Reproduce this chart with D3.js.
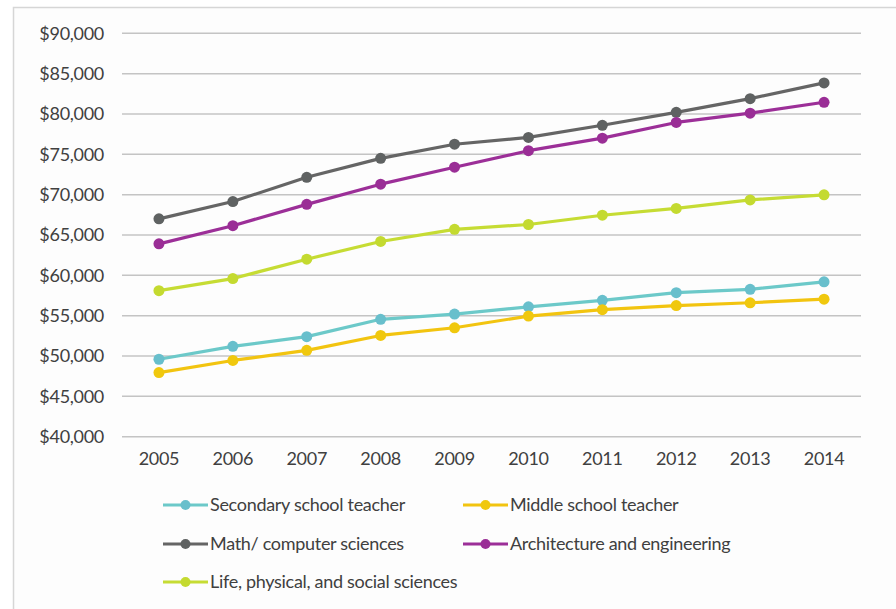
<!DOCTYPE html>
<html>
<head>
<meta charset="utf-8">
<script src="https://cdn.jsdelivr.net/npm/d3@7/dist/d3.min.js"></script>
<style>
  html, body { margin: 0; padding: 0; background: #ffffff; }
  svg { display: block; font-family: Lato, "Open Sans", sans-serif; }
</style>
</head>
<body>
<svg id="chart" width="896" height="609"></svg>
<script>
// Median salary by occupation, 2005–2014
const years = ["2005", "2006", "2007", "2008", "2009", "2010", "2011", "2012", "2013", "2014"];

const secondaryTeacher = [49600, 51200, 52400, 54550, 55200, 56100, 56900, 57850, 58270, 59200];
const middleTeacher    = [47950, 49450, 50700, 52550, 53500, 54950, 55750, 56250, 56600, 57050];
const mathComputer     = [67000, 69150, 72150, 74500, 76250, 77100, 78600, 80200, 81900, 83850];
const archEngineering  = [63900, 66150, 68800, 71300, 73400, 75450, 77000, 78950, 80100, 81450];
const lifeSciences     = [58100, 59600, 62000, 64200, 65700, 66300, 67450, 68300, 69350, 69980];

const yTicks = [40000, 45000, 50000, 55000, 60000, 65000, 70000, 75000, 80000, 85000, 90000];

const seriesNames = [
  "Secondary school teacher",
  "Middle school teacher",
  "Math/ computer sciences",
  "Architecture and engineering",
  "Life, physical, and social sciences"
];
const seriesValues = [secondaryTeacher, middleTeacher, mathComputer, archEngineering, lifeSciences];
const seriesColors = ["#6cc9c9", "#f2c410", "#656565", "#9c2f98", "#c6dc34"];
const markerColors = ["#68bfcc", "#f0c80e", "#5f6262", "#9a2e96", "#c4da30"];

const textColor = "#404040";
const fontSize = "18px";
const tracking = "-0.3px";

const svg = d3.select("#chart");

// Frame and panel background
svg.append("rect")
  .attr("x", 13.5).attr("y", 7.5)
  .attr("width", 900).attr("height", 620)
  .attr("fill", "#fdfdfd")
  .attr("stroke", "#d6d6d6")
  .attr("stroke-width", 1.5);

const plot = { left: 122, right: 861, top: 33.3, bottom: 436.7 };

const x = d3.scaleBand().domain(years).range([plot.left, plot.right]);
const y = d3.scaleLinear().domain([40000, 90000]).range([plot.bottom, plot.top]);

// Horizontal gridlines
svg.append("g")
  .selectAll("line")
  .data(yTicks)
  .join("line")
  .attr("x1", plot.left).attr("x2", plot.right)
  .attr("y1", d => y(d)).attr("y2", d => y(d))
  .attr("stroke", "#c4c4c4")
  .attr("stroke-width", 1.5);

const styleText = g => g.selectAll("text")
  .attr("fill", textColor)
  .attr("font-size", fontSize)
  .attr("font-family", "Lato, sans-serif")
  .attr("letter-spacing", tracking);

// Y axis labels
const fmt = d3.format("$,");
const yAxis = d3.axisLeft(y).tickValues(yTicks).tickFormat(fmt).tickSize(0).tickPadding(0);
svg.append("g")
  .attr("transform", `translate(${104},0)`)
  .call(yAxis)
  .call(g => g.select(".domain").remove())
  .call(styleText);

// X axis labels
const xAxis = d3.axisBottom(x).tickSize(0).tickPadding(0);
svg.append("g")
  .attr("transform", `translate(0,${452})`)
  .call(xAxis)
  .call(g => g.select(".domain").remove())
  .call(styleText);

// Series lines and markers
const cx = d => x(d) + x.bandwidth() / 2;
const line = d3.line().x((v, i) => cx(years[i])).y(v => y(v));

seriesValues.forEach((vals, s) => {
  const g = svg.append("g");
  g.append("path")
    .datum(vals)
    .attr("d", line)
    .attr("fill", "none")
    .attr("stroke", seriesColors[s])
    .attr("stroke-width", 3.2)
    .attr("stroke-linejoin", "round");
  g.selectAll("circle")
    .data(vals)
    .join("circle")
    .attr("cx", (v, i) => cx(years[i]))
    .attr("cy", v => y(v))
    .attr("r", 5.5)
    .attr("fill", markerColors[s]);
});

// Legend
const legendPos = [
  { x: 163, y: 505 },
  { x: 463, y: 505 },
  { x: 163, y: 544 },
  { x: 463, y: 544 },
  { x: 163, y: 582 }
];
const legend = svg.append("g");
seriesNames.forEach((name, s) => {
  const p = legendPos[s];
  legend.append("line")
    .attr("x1", p.x).attr("x2", p.x + 45)
    .attr("y1", p.y).attr("y2", p.y)
    .attr("stroke", seriesColors[s])
    .attr("stroke-width", 3.2);
  legend.append("circle")
    .attr("cx", p.x + 22.5).attr("cy", p.y)
    .attr("r", 5)
    .attr("fill", markerColors[s]);
  legend.append("text")
    .attr("x", p.x + 47).attr("y", p.y)
    .attr("dy", "0.35em")
    .attr("fill", textColor)
    .attr("font-size", fontSize)
    .attr("letter-spacing", tracking)
    .text(name);
});
</script>
</body>
</html>
